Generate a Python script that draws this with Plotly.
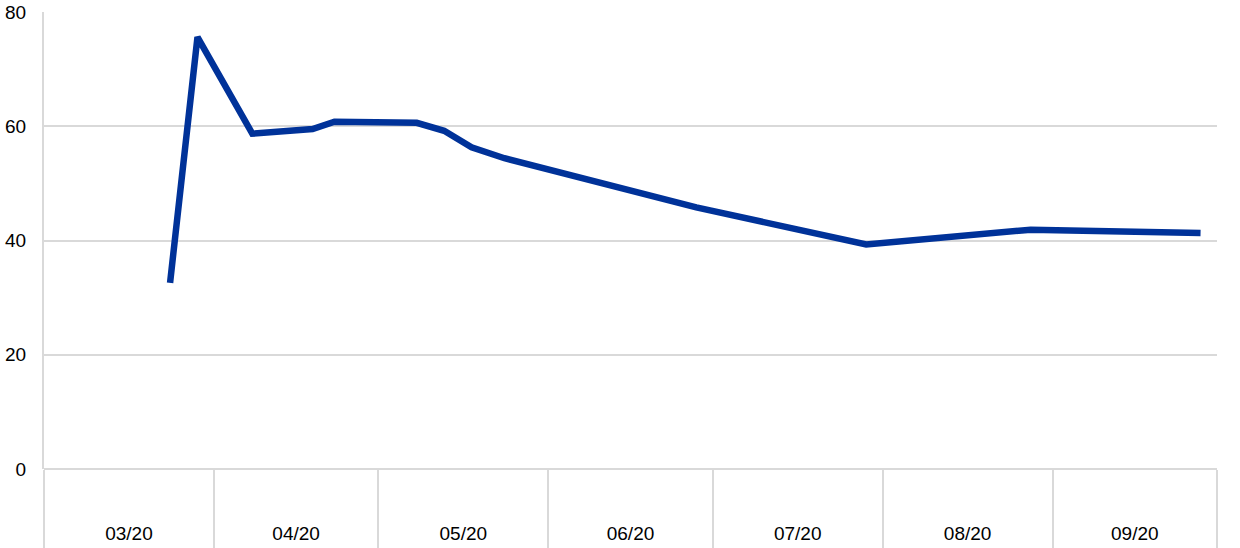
import plotly.graph_objects as go

dates = ["2020-03-24", "2020-03-29", "2020-04-08", "2020-04-19", "2020-04-23",
         "2020-05-03", "2020-05-08", "2020-05-13", "2020-05-18", "2020-05-24",
         "2020-06-28", "2020-07-29", "2020-08-28", "2020-09-28"]
values = [32.6, 75.6, 58.7, 59.5, 60.8,
          60.8, 60.6, 59.2, 56.3, 54.4,
          45.8, 39.3, 41.9, 41.3]
x_start, x_end = "2020-03-01", "2020-10-01"
y_ticks = [0, 20, 40, 60, 80]

grid = "#d9d9d9"

fig = go.Figure()
fig.add_trace(go.Scatter(x=dates, y=values, mode="lines",
                         line=dict(color="#003299", width=6.5),
                         hoverinfo="x+y", showlegend=False))

fig.update_layout(
    width=1240, height=548,
    margin=dict(l=44, r=23, t=12, b=79),
    paper_bgcolor="white", plot_bgcolor="white",
    font=dict(family="Liberation Sans, Arial, sans-serif", size=19, color="#000000"),
    xaxis=dict(
        type="date",
        range=[x_start, x_end],
        tick0=x_start, dtick="M1",
        tickformat="%m/%y",
        ticklabelmode="period",
        ticks="outside", ticklen=80, tickwidth=2, tickcolor=grid,
        ticklabelstandoff=-33,
        showgrid=False, showline=False, zeroline=False,
        automargin=False,
        tickfont=dict(size=19),
    ),
    yaxis=dict(
        range=[0, 80], tickvals=y_ticks,
        showgrid=True, gridcolor=grid, gridwidth=2,
        zeroline=True, zerolinecolor=grid, zerolinewidth=2,
        showline=True, linecolor=grid, linewidth=2,
        ticks="", ticklabelstandoff=12,
        automargin=False,
        tickfont=dict(size=19),
    ),
)

fig.write_html("out.html",
               config={"displayModeBar": False},
               post_script="document.body.style.margin='0';document.body.style.overflow='hidden';")
